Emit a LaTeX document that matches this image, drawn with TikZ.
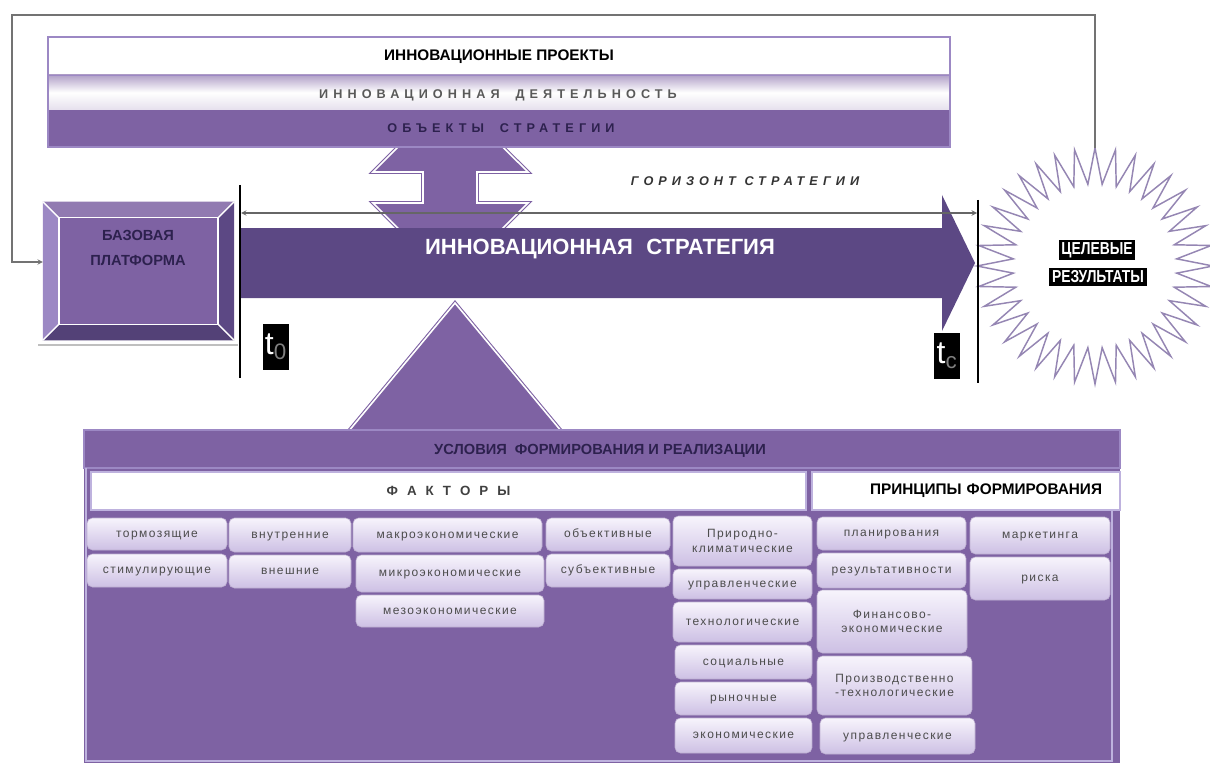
\documentclass[tikz,border=0pt]{standalone}
\usepackage{fontspec}
\setmainfont{Liberation Sans}
\newfontfamily\spacedfont[LetterSpace=40]{Liberation Sans}
\newfontfamily\narrowfont[FakeStretch=0.8]{Liberation Sans}
\newfontfamily\cellfont[LetterSpace=12]{Liberation Sans}
\usepackage{tikz}
\usetikzlibrary{arrows, positioning, calc}

\definecolor{pmid}{RGB}{126,98,163}
\definecolor{pdark}{RGB}{92,72,132}
\definecolor{plight}{RGB}{156,136,196}
\definecolor{pedge}{RGB}{190,178,222}
\definecolor{ptext}{RGB}{45,33,78}
\definecolor{cellhi}{RGB}{247,244,252}
\definecolor{celllo}{RGB}{205,192,228}

\tikzstyle{arrow} = [->,>=stealth]
\tikzstyle{emboss} = [fill=pmid, draw=pmid, double=white, line width=0.8pt, double distance=1.2pt]
\tikzstyle{cell} = [rounded corners=4pt, top color=cellhi, bottom color=celllo, draw=pmid!50, line width=0.4pt, inner sep=0pt, align=center, text=black!70, font=\cellfont\fontsize{9}{11}\selectfont]
\tikzstyle{oneline} = [text height=7pt, text depth=2pt]
\tikzstyle{bar} = [fill=white, draw=pedge, line width=1.2pt, inner sep=0pt, minimum height=28.5pt]
\tikzstyle{tlabel} = [fill=black, text=white, inner sep=0pt, minimum width=20pt, minimum height=34pt, font=\fontsize{24}{24}\selectfont]
\tikzstyle{goaltext} = [fill=black, text=white, inner sep=2pt, font=\narrowfont\bfseries\fontsize{13}{13}\selectfont]
\tikzstyle{burst} = [draw=plight!75!gray, line width=1.1pt, fill=white]

% cell from corner (x1,y1) to corner (x2,y2), in pixels of the layout
\newcommand{\cellbox}[7][oneline]{\node[cell, #1, minimum width={(#5-#3)*0.75pt}, minimum height={(#6-#4)*0.75pt}] (#2) at ({(#3+#5)/2},{(#4+#6)/2}) {#7};}

\begin{document}
\begin{tikzpicture}[x=0.75pt, y=-0.75pt]
    \useasboundingbox (0,0) rectangle (1210,763);

    % Arrows behind the blocks
    \filldraw[emboss] (450,95) -- (528,172) -- (477,172) -- (477,203) -- (528,203) -- (450,281) -- (373,203) -- (423,203) -- (423,172) -- (373,172) -- cycle;
    \filldraw[emboss] (455,303) -- (562,432) -- (348,432) -- cycle;

    % Top block
    \fill[white] (48,37) rectangle (950,75);
    \shade[top color=pmid!60, bottom color=pmid!20, middle color=white] (48,75) rectangle (950,110);
    \fill[pmid] (48,110) rectangle (950,147);
    \draw[plight, line width=1.5pt] (48,37) rectangle (950,147);
    \draw[plight] (48,75) -- (950,75);
    \node[font=\bfseries\fontsize{11.5}{12}\selectfont] (projects) at (499,57) {ИННОВАЦИОННЫЕ ПРОЕКТЫ};
    \node[font=\spacedfont\bfseries\fontsize{9.5}{10}\selectfont, text=black!65] (activity) at (498,95) {ИННОВАЦИОННАЯ\hspace{12pt}ДЕЯТЕЛЬНОСТЬ};
    \node[font=\spacedfont\bfseries\fontsize{9.5}{10}\selectfont, text=ptext] (objects) at (501,128) {ОБЪЕКТЫ\hspace{12pt}СТРАТЕГИИ};

    % Main arrow
    \fill[pdark] (240,228) -- (942,228) -- (942,195) -- (975,263) -- (942,331) -- (942,298) -- (240,298) -- cycle;
    \node[text=white, font=\bfseries\fontsize{16.5}{17}\selectfont] (strategy) at (600,249) {ИННОВАЦИОННАЯ\hspace{10pt}СТРАТЕГИЯ};

    % Base platform
    \draw[black!25, line width=1pt] (38,345) -- (238,345);
    \node[fill=pmid, minimum width=143pt, minimum height=103.5pt, inner sep=0pt] (base) at (138.5,271) {};
    \fill[pmid!85!white] (base.north west) -- (base.north east) -- ($(base.north east)+(-16,16)$) -- ($(base.north west)+(16,16)$) -- cycle;
    \fill[plight] (base.north west) -- ($(base.north west)+(16,16)$) -- ($(base.south west)+(16,-16)$) -- (base.south west) -- cycle;
    \fill[pdark] (base.north east) -- (base.south east) -- ($(base.south east)+(-16,-16)$) -- ($(base.north east)+(-16,16)$) -- cycle;
    \fill[pdark!90!black] (base.south west) -- (base.south east) -- ($(base.south east)+(-16,-16)$) -- ($(base.south west)+(16,-16)$) -- cycle;
    \draw[white, line width=1pt] ($(base.north west)+(16,16)$) rectangle ($(base.south east)+(-16,-16)$);
    \draw[white, line width=1pt] (base.north west) -- ($(base.north west)+(16,16)$) (base.north east) -- ($(base.north east)+(-16,16)$) (base.south west) -- ($(base.south west)+(16,-16)$) (base.south east) -- ($(base.south east)+(-16,-16)$);
    \node[text=ptext, align=center, font=\bfseries\fontsize{11}{18.5}\selectfont] (basename) at (138,248) {БАЗОВАЯ\\ПЛАТФОРМА};

    % Target results
    \draw[burst] plot[domain=0:360, samples=73, variable=\a] ({1095+(100+18*cos(36*\a))*cos(\a)}, {266+(100+18*cos(36*\a))*sin(\a)}) -- cycle;
    \coordinate (goaltop) at (1095,148);
    \node[goaltext] (goal1) at (1097,250) {ЦЕЛЕВЫЕ};
    \node[goaltext] (goal2) at (1098,277) {РЕЗУЛЬТАТЫ};

    % Time marks
    \coordinate (t0top) at (240,185);
    \coordinate (t0bot) at (240,378);
    \coordinate (tctop) at (978,200);
    \coordinate (tcbot) at (978,383);
    \draw[line width=1.5pt] (t0top) -- (t0bot);
    \draw[line width=1.5pt] (tctop) -- (tcbot);
    \node[tlabel] (t0) at (276,347) {t\textsubscript{\color{gray}0}};
    \node[tlabel] (tc) at (947,356) {t\textsubscript{\color{gray}c}};

    % Horizon
    \coordinate (hzl) at (241,213);
    \coordinate (hzr) at (977,213);
    \draw[arrow, <->, black!60, line width=0.8pt] (hzl) -- (hzr);
    \node[font=\spacedfont\bfseries\itshape\fontsize{9.5}{10}\selectfont, text=black!80] (horizon) at (745,181) {ГОРИЗОНТ СТРАТЕГИИ};

    % Feedback
    \draw[arrow, black!55, line width=0.8pt] (goaltop) |- (12,15) |- ([yshift=6.75pt]base.west);

    % Bottom block
    \fill[pmid] (84,430) rectangle (1120,763);
    \draw[plight, line width=1.2pt] (84,430) rectangle (1120,468);
    \draw[pedge, line width=1.2pt] (86,468) -- (86,761) -- (1112,761) -- (1112,510);
    \node[text=ptext, font=\bfseries\fontsize{11}{11}\selectfont] (conditions) at (600,451) {УСЛОВИЯ\hspace{6pt}ФОРМИРОВАНИЯ И РЕАЛИЗАЦИИ};
    \node[bar, minimum width=536.25pt, font=\spacedfont\bfseries\fontsize{10}{10}\selectfont, text=black!75] (factors) at (448.5,491) {Ф А К Т О Р Ы};
    \node[bar, minimum width=231pt, text width=204pt, align=right, font=\bfseries\fontsize{11.5}{12}\selectfont] (principles) at (966,491) {ПРИНЦИПЫ ФОРМИРОВАНИЯ};

    % Factors
    \cellbox{tormoz}{87}{518}{227}{550}{тормозящие}
    \cellbox{stimul}{87}{554}{227}{587}{стимулирующие}
    \cellbox{vnutr}{229}{518}{351}{552}{внутренние}
    \cellbox{vnesh}{229}{555}{351}{588}{внешние}
    \cellbox{makro}{353}{518}{542}{552}{макроэкономические}
    \cellbox{mikro}{356}{555}{544}{592}{микроэкономические}
    \cellbox{mezo}{356}{595}{544}{627}{мезоэкономические}
    \cellbox{obj}{546}{518}{670}{551}{объективные}
    \cellbox{subj}{546}{554}{670}{587}{субъективные}
    \cellbox[]{prirod}{673}{516}{812}{566}{Природно-\\климатические}
    \cellbox{upravF}{673}{569}{812}{599}{управленческие}
    \cellbox{tekhn}{673}{602}{812}{642}{технологические}
    \cellbox{social}{675}{645}{812}{679}{социальные}
    \cellbox{rynok}{675}{682}{812}{715}{рыночные}
    \cellbox{ekon}{675}{718}{812}{753}{экономические}

    % Principles
    \cellbox{plan}{817}{517}{966}{550}{планирования}
    \cellbox{rezult}{817}{553}{966}{588}{результативности}
    \cellbox[]{finans}{817}{590}{967}{653}{Финансово-\\экономические}
    \cellbox[]{proizv}{817}{656}{972}{715}{Производственно\\-технологические}
    \cellbox{upravP}{820}{718}{975}{754}{управленческие}
    \cellbox{market}{970}{517}{1110}{554}{маркетинга}
    \cellbox{risk}{970}{557}{1110}{600}{риска}
\end{tikzpicture}
\end{document}
